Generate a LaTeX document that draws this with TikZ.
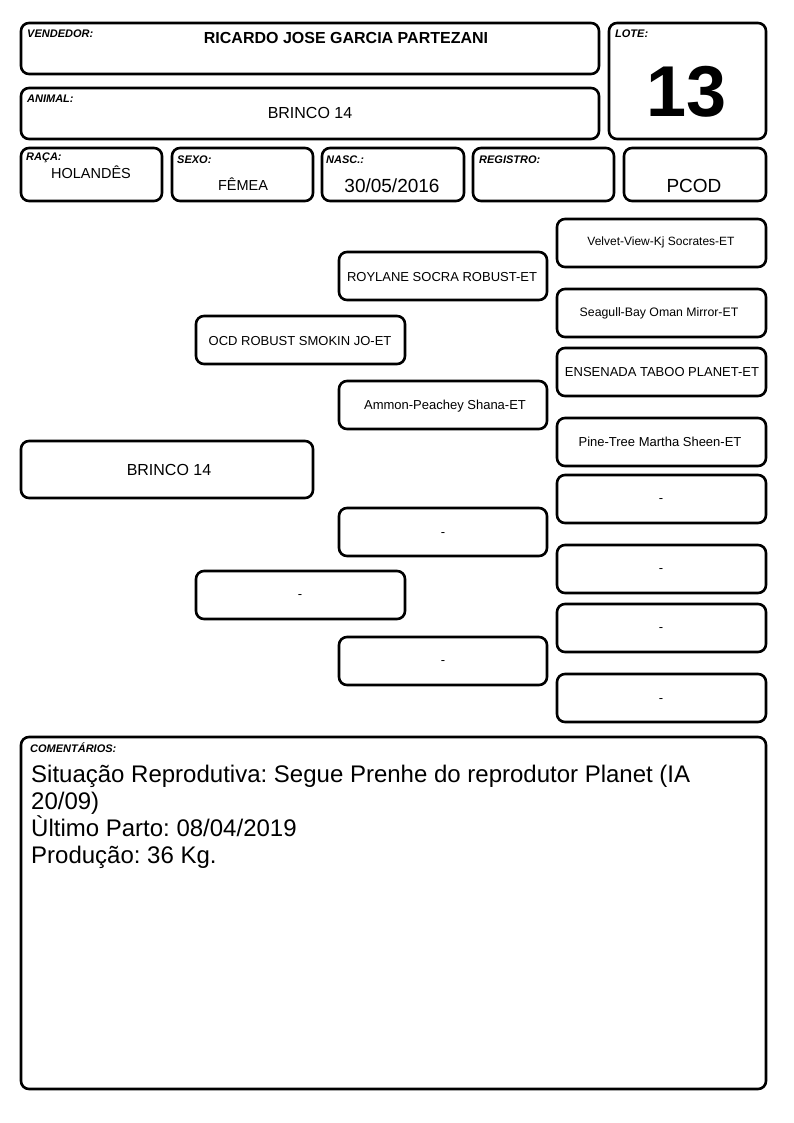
\documentclass[tikz,border=0pt]{standalone}
\usepackage{fontspec}
\setmainfont{Liberation Sans}
\frenchspacing
\begin{document}
\begin{tikzpicture}[x=1pt,y=-1pt,
  card/.style={draw=black,line width=2.6pt,rounded corners=8pt},
  lbl/.style={anchor=north west,inner sep=0pt,font=\fontsize{11}{12}\selectfont\bfseries\itshape},
  ped/.style={inner sep=0pt,font=\fontsize{13}{15}\selectfont}]
\useasboundingbox (0,0) rectangle (794,1123);
% header boxes
\draw[card] (21,23) rectangle (599,74);
\node[lbl] (vendL) at (27,30) {VENDEDOR:};
\node[inner sep=0pt,font=\fontsize{16}{18}\selectfont\bfseries] (vendT) at (346,38) {RICARDO JOSE GARCIA PARTEZANI};
\draw[card] (21,88) rectangle (599,139);
\node[lbl] (animL) at (27,95) {ANIMAL:};
\node[inner sep=0pt,font=\fontsize{16}{18}\selectfont] (animT) at (310,113) {BRINCO 14};
\draw[card] (609,23) rectangle (766,139);
\node[lbl] (loteL) at (615,30) {LOTE:};
\node[inner sep=0pt,font=\fontsize{72}{76}\selectfont\bfseries] (loteT) at (687,92) {13};
\draw[card] (21,148) rectangle (162,201);
\node[lbl] (racaL) at (26,153) {RAÇA:};
\node[inner sep=0pt,font=\fontsize{14.5}{16}\selectfont] (racaT) at (91,172) {HOLANDÊS};
\draw[card] (172,148) rectangle (313,201);
\node[lbl] (sexoL) at (177,156) {SEXO:};
\node[inner sep=0pt,font=\fontsize{14.5}{16}\selectfont] (sexoT) at (243,184) {FÊMEA};
\draw[card] (322,148) rectangle (464,201);
\node[lbl] (nascL) at (326,156) {NASC.:};
\node[inner sep=0pt,font=\fontsize{19}{21}\selectfont] (nascT) at (392,186) {30/05/2016};
\draw[card] (473,148) rectangle (614,201);
\node[lbl] (regL) at (479,156) {REGISTRO:};
\draw[card] (624,148) rectangle (766,201);
\node[inner sep=0pt,font=\fontsize{19}{21}\selectfont] (pcodT) at (694,186) {PCOD};
% pedigree
\draw[card] (21,441) rectangle (313,498);
\node[ped,font=\fontsize{16}{18}\selectfont] (animal) at (169,470) {BRINCO 14};
\draw[card] (196,316) rectangle (405,364);
\node[ped] (pai) at (300,341) {OCD ROBUST SMOKIN JO-ET};
\draw[card] (196,571) rectangle (405,619);
\node[ped] (mae) at (300,597) {-};
\draw[card] (339,252) rectangle (547,300);
\node[ped] (avoPP) at (442,277) {ROYLANE SOCRA ROBUST-ET};
\draw[card] (339,381) rectangle (547,429);
\node[ped] (avoPM) at (445,406) {Ammon-Peachey Shana-ET};
\draw[card] (339,508) rectangle (547,556);
\node[ped] (avoMP) at (443,535) {-};
\draw[card] (339,637) rectangle (547,685);
\node[ped] (avoMM) at (443,663) {-};
\draw[card] (557,219) rectangle (766,267);
\node[ped,font=\fontsize{12}{14}\selectfont] (b1) at (661,242) {Velvet-View-Kj Socrates-ET};
\draw[card] (557,289) rectangle (766,337);
\node[ped,font=\fontsize{12.3}{14}\selectfont] (b2) at (659,313) {Seagull-Bay Oman Mirror-ET};
\draw[card] (557,348) rectangle (766,396);
\node[ped] (b3) at (662,372) {ENSENADA TABOO PLANET-ET};
\draw[card] (557,418) rectangle (766,466);
\node[ped] (b4) at (660,442) {Pine-Tree Martha Sheen-ET};
\draw[card] (557,475) rectangle (766,523);
\node[ped] (b5) at (661,501) {-};
\draw[card] (557,545) rectangle (766,593);
\node[ped] (b6) at (661,571) {-};
\draw[card] (557,604) rectangle (766,652);
\node[ped] (b7) at (661,630) {-};
\draw[card] (557,674) rectangle (766,722);
\node[ped] (b8) at (661,701) {-};
% comments
\draw[card] (21,737) rectangle (766,1089);
\node[lbl] (comL) at (30,743) {COMENTÁRIOS:};
\node[anchor=north west,inner sep=0pt,align=left,font=\fontsize{24}{27}\selectfont] (comT) at (31,765)
 {Situação Reprodutiva: Segue Prenhe do reprodutor Planet (IA\\20/09)\\Ùltimo Parto: 08/04/2019\\Produção: 36 Kg.};
\end{tikzpicture}
\end{document}
